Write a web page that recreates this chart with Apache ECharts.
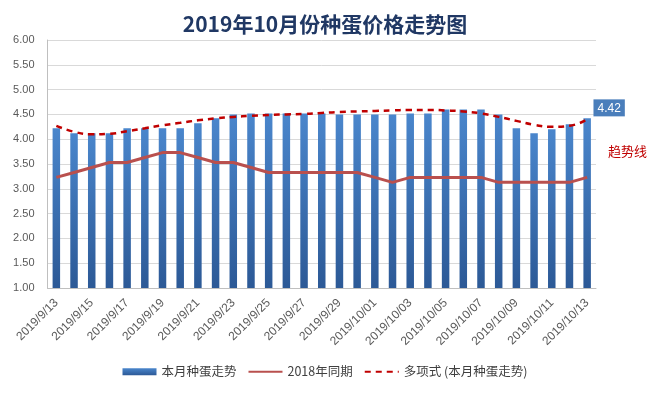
<!DOCTYPE html>
<html>
<head>
<meta charset="utf-8">
<script src="https://cdn.jsdelivr.net/npm/echarts@6/dist/echarts.min.js"></script>
<style>
html,body{margin:0;padding:0;background:#fff;}
#c{width:650px;height:393px;}
</style>
</head>
<body>
<div id="c"></div>
<script>
const categories = [
  '2019/9/13','2019/9/14','2019/9/15','2019/9/16','2019/9/17','2019/9/18','2019/9/19','2019/9/20',
  '2019/9/21','2019/9/22','2019/9/23','2019/9/24','2019/9/25','2019/9/26','2019/9/27','2019/9/28',
  '2019/9/29','2019/9/30','2019/10/01','2019/10/02','2019/10/03','2019/10/04','2019/10/05','2019/10/06',
  '2019/10/07','2019/10/08','2019/10/09','2019/10/10','2019/10/11','2019/10/12','2019/10/13'
];
const thisMonth = [
  4.22,4.12,4.12,4.12,4.22,4.22,4.22,4.22,4.32,4.42,4.50,4.52,4.52,4.52,4.52,4.52,
  4.50,4.50,4.50,4.50,4.52,4.52,4.60,4.60,4.60,4.50,4.22,4.12,4.20,4.30,4.42
];
const lastYear = [
  3.23,3.33,3.43,3.53,3.53,3.63,3.73,3.73,3.63,3.53,3.53,3.43,3.33,3.33,3.33,3.33,
  3.33,3.33,3.23,3.13,3.23,3.23,3.23,3.23,3.23,3.13,3.13,3.13,3.13,3.13,3.23
];
const trend = [
  4.27,4.15,4.10,4.11,4.16,4.22,4.28,4.33,4.38,4.42,4.45,4.47,4.49,4.50,4.51,4.53,
  4.55,4.56,4.57,4.58,4.59,4.59,4.58,4.56,4.52,4.45,4.37,4.29,4.25,4.27,4.40
];
const seriesNames = ['本月种蛋走势','2018年同期','多项式 (本月种蛋走势)'];
const titleText = '2019年10月份种蛋价格走势图';
const trendNote = '趋势线';

const chart = echarts.init(document.getElementById('c'));
const barData = thisMonth.map((v, i) => i === thisMonth.length - 1 ? {
  value: v,
  label: {
    show: true, position: 'top', distance: 2, offset: [22, 0],
    formatter: p => p.value.toFixed(2),
    backgroundColor: '#4a7ebb', color: '#fff', padding: [3, 4, 2, 4],
    fontSize: 12, fontFamily: 'Liberation Sans'
  }
} : v);

chart.setOption({
  animation: false,
  backgroundColor: '#fff',
  title: {
    text: titleText, left: 'center', top: 9,
    textStyle: { fontSize: 21, fontWeight: 'bold', color: '#203864', fontFamily: 'Noto Sans CJK SC' }
  },
  grid: { left: 47.5, right: 54, top: 40, bottom: 105 },
  legend: {
    bottom: 10, left: 'center', itemWidth: 34, itemHeight: 7, itemGap: 11,
    textStyle: { fontSize: 12.5, color: '#404040', fontFamily: 'Noto Sans CJK SC' },
    data: [
      { name: seriesNames[0], icon: 'rect' },
      { name: seriesNames[1], itemStyle: { opacity: 0 } },
      { name: seriesNames[2], itemStyle: { opacity: 0 } }
    ]
  },
  xAxis: {
    type: 'category', data: categories,
    axisTick: { show: false },
    axisLine: { lineStyle: { color: '#bfbfbf' } },
    axisLabel: { interval: 1, rotate: 45, color: '#595959', fontSize: 12, margin: 13, fontFamily: 'Liberation Sans' }
  },
  yAxis: {
    type: 'value', min: 1, max: 6, interval: 0.5,
    axisLine: { show: true, lineStyle: { color: '#bfbfbf' } },
    axisTick: { show: false },
    splitLine: { lineStyle: { color: '#d9d9d9' } },
    axisLabel: { formatter: v => v.toFixed(2), color: '#595959', fontSize: 11, margin: 13, fontFamily: 'Liberation Sans' }
  },
  graphic: [{
    type: 'text', left: 608, top: 145,
    style: { text: trendNote, fill: '#c00000', fontSize: 13, fontFamily: 'Noto Sans CJK SC' }
  }],
  series: [
    {
      name: seriesNames[0], type: 'bar', data: barData, barWidth: 7.5,
      itemStyle: {
        color: new echarts.graphic.LinearGradient(0, 0, 0, 1, [
          { offset: 0, color: '#4a86cc' }, { offset: 1, color: '#2c5996' }
        ])
      }
    },
    {
      name: seriesNames[1], type: 'line', data: lastYear, showSymbol: false, symbol: 'none',
      lineStyle: { color: '#b9504e', width: 3 }, itemStyle: { color: '#b9504e' }
    },
    {
      name: seriesNames[2], type: 'line', data: trend, showSymbol: false, symbol: 'none', smooth: true,
      lineStyle: { color: '#c00000', width: 2.5, type: [6, 5] }, itemStyle: { color: '#c00000' }
    }
  ]
});
</script>
</body>
</html>
